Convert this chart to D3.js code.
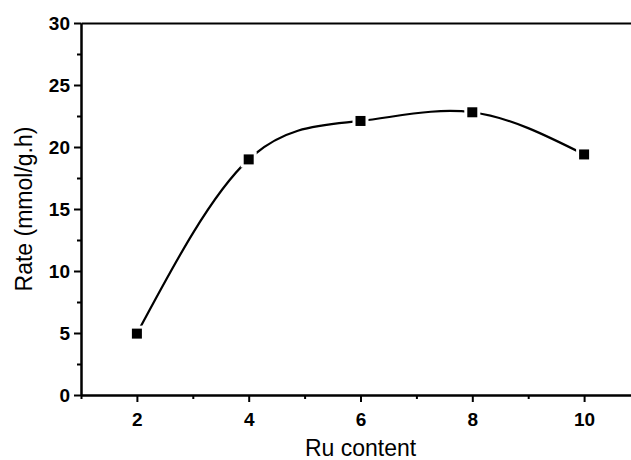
<!DOCTYPE html>
<html>
<head>
<meta charset="utf-8">
<script src="https://cdn.jsdelivr.net/npm/d3@7"></script>
<style>
  body { margin: 0; background: #fff; }
  .canvas svg { display: block; }
</style>
</head>
<body>
<div class="canvas"></div>
<script>
// data.
const ruContent = [2, 4, 6, 8, 10];
const rate = [4.95, 19.0, 22.1, 22.8, 19.4];
const xMajorTicks = [2, 4, 6, 8, 10];
const xMinorTicks = [1, 3, 5, 7, 9, 11];
const yMajorTicks = [0, 5, 10, 15, 20, 25, 30];
const yMinorTicks = [2.5, 7.5, 12.5, 17.5, 22.5, 27.5];

// dimensions.
const svgDimensions = { width: 631, height: 460 };
const plot = { left: 81, right: 640, top: 23, bottom: 395 };
const font = "'Liberation Sans', Arial, sans-serif";

const svg = d3.select('.canvas')
    .append('svg')
        .attr('width', svgDimensions.width)
        .attr('height', svgDimensions.height);

const x = d3.scaleLinear().domain([1, 11]).range([plot.left, plot.right]);
const y = d3.scaleLinear().domain([0, 30]).range([plot.bottom, plot.top]);

// style an axis group.
const styleAxis = (g, labels) => {
    g.selectAll('path.domain').attr('stroke', '#000').attr('stroke-width', 2);
    g.selectAll('.tick line').attr('stroke', '#000').attr('stroke-width', 2);
    g.selectAll('.tick text')
        .attr('fill', '#000')
        .style('font-family', font)
        .style('font-weight', 'bold')
        .style('font-size', '19px');
    if (!labels) g.selectAll('.tick text').remove();
};

// minor ticks first, then majors on top.
svg.append('g')
    .attr('transform', `translate(0,${plot.bottom})`)
    .call(d3.axisBottom(x).tickValues(xMinorTicks).tickSize(4).tickSizeOuter(0))
    .call(g => styleAxis(g, false));

svg.append('g')
    .attr('transform', `translate(0,${plot.bottom})`)
    .call(d3.axisBottom(x).tickValues(xMajorTicks).tickSize(7).tickSizeOuter(0).tickPadding(11))
    .call(g => styleAxis(g, true));

svg.append('g')
    .attr('transform', `translate(${plot.left},0)`)
    .call(d3.axisLeft(y).tickValues(yMinorTicks).tickSize(4).tickSizeOuter(0))
    .call(g => styleAxis(g, false));

svg.append('g')
    .attr('transform', `translate(${plot.left},0)`)
    .call(d3.axisLeft(y).tickValues(yMajorTicks).tickSize(7).tickSizeOuter(0).tickPadding(4))
    .call(g => styleAxis(g, true));

// top frame line, no ticks.
svg.append('g')
    .attr('transform', `translate(0,${plot.top})`)
    .call(d3.axisTop(x).tickValues([]).tickSizeOuter(0))
    .call(g => styleAxis(g, false));

// axis titles, centred on their axes.
svg.append('text')
    .attr('x', x(6))
    .attr('y', 456)
    .attr('text-anchor', 'middle')
    .style('font-family', font)
    .style('font-size', '23px')
    .text('Ru content');

svg.append('text')
    .attr('transform', `translate(32,${y(15)}) rotate(-90)`)
    .attr('text-anchor', 'middle')
    .style('font-family', font)
    .style('font-size', '23px')
    .text('Rate (mmol/g.h)');

// spline through the points.
const points = ruContent.map((d, i) => ({ x: d, y: rate[i] }));

const line = d3.line()
    .x(d => x(d.x))
    .y(d => y(d.y))
    .curve(d3.curveNatural);

svg.append('path')
    .datum(points)
    .attr('d', line)
    .attr('fill', 'none')
    .attr('stroke', '#000')
    .attr('stroke-width', 2.2);

// white pads make the gaps round each marker.
svg.append('g').selectAll('rect')
    .data(points)
    .enter()
    .append('rect')
        .attr('x', d => x(d.x) - 8)
        .attr('y', d => y(d.y) - 8)
        .attr('width', 16)
        .attr('height', 16)
        .attr('fill', '#fff');

svg.append('g').selectAll('rect')
    .data(points)
    .enter()
    .append('rect')
        .attr('x', d => x(d.x) - 5)
        .attr('y', d => y(d.y) - 5)
        .attr('width', 10)
        .attr('height', 10)
        .attr('fill', '#000');
</script>
</body>
</html>
